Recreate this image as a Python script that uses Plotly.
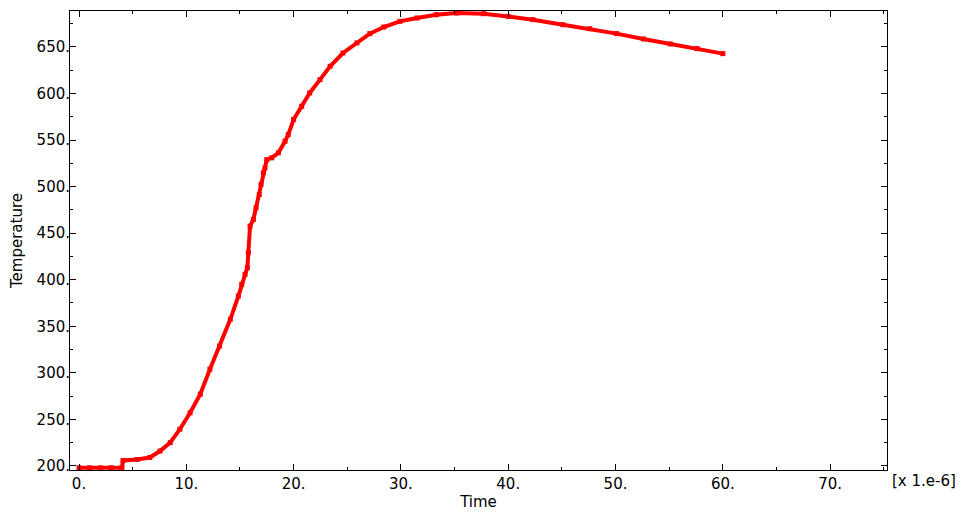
import plotly.graph_objects as go

# Temperature history (time in units of 1e-6)
time_vals = [0.0, 1.0, 2.0, 3.0, 4.0, 4.1, 5.4, 6.6, 7.55, 8.5, 9.4, 10.35, 11.3,
             12.2, 13.1, 14.1, 14.85, 15.16, 15.47, 15.69, 15.78, 15.94, 16.25,
             16.5, 16.8, 16.96, 17.18, 17.33, 17.5, 17.96, 18.58, 19.2, 19.5,
             20.0, 20.75, 21.5, 22.46, 23.4, 24.6, 25.9, 27.1, 28.4, 29.9, 31.5,
             33.3, 35.2, 37.7, 40.0, 42.3, 45.1, 47.6, 50.1, 52.6, 55.1, 57.6, 60.0]
temperature = [198.0, 198.0, 198.0, 198.0, 198.0, 205.8, 206.9, 209.0, 216.0, 225.0,
               239.4, 257.0, 277.0, 303.8, 328.8, 357.4, 382.4, 395.0, 405.7, 412.9,
               429.0, 457.5, 464.7, 477.3, 491.5, 502.3, 514.8, 520.0, 529.0, 530.9,
               536.3, 548.7, 555.9, 572.0, 586.3, 600.6, 614.9, 629.2, 643.5, 654.3,
               664.3, 671.4, 677.5, 681.1, 684.6, 686.4, 685.7, 682.8, 679.3, 673.9,
               669.6, 664.3, 658.6, 653.2, 648.2, 642.8]

x_ticks = [0, 10, 20, 30, 40, 50, 60, 70]
x_labels = ['0.', '10.', '20.', '30.', '40.', '50.', '60.', '70.']
y_ticks = [200, 250, 300, 350, 400, 450, 500, 550, 600, 650]
y_labels = ['200.', '250.', '300.', '350.', '400.', '450.', '500.', '550.', '600.', '650.']

fig = go.Figure()

fig.add_trace(go.Scatter(
    x=time_vals,
    y=temperature,
    mode='lines+markers',
    line=dict(color='#FF0000', width=4),
    marker=dict(symbol='square', size=5, color='#FF0000'),
    showlegend=False
))

font = dict(family='DejaVu Sans', size=15, color='#000000')

# the page body has an 8px margin, so the figure is a bit smaller than the window
fig.update_layout(
    width=958, height=514,
    margin=dict(l=62, r=79, t=3, b=52),
    plot_bgcolor='white', paper_bgcolor='white',
    font=font,
    annotations=[dict(
        text='[x 1.e-6]', xref='paper', yref='paper', x=1.004, y=-0.023,
        xanchor='left', yanchor='middle', showarrow=False, font=font
    )]
)

fig.update_xaxes(
    range=[-0.84, 75.3], showgrid=False, zeroline=False, automargin=False,
    showline=True, linecolor='black', linewidth=1, mirror='ticks',
    ticks='inside', ticklen=6, tickcolor='black', tickfont=font,
    tickmode='array', tickvals=x_ticks, ticktext=x_labels,
    minor=dict(ticks='inside', ticklen=3, tickcolor='black', dtick=5, tick0=0, showgrid=False),
    title=dict(text='Time', standoff=2, font=font)
)
fig.update_yaxes(
    range=[195.6, 688.6], showgrid=False, zeroline=False, automargin=False,
    showline=True, linecolor='black', linewidth=1, mirror='ticks',
    ticks='inside', ticklen=6, tickcolor='black', tickfont=font,
    ticklabelstandoff=-4,
    tickmode='array', tickvals=y_ticks, ticktext=y_labels,
    minor=dict(ticks='inside', ticklen=3, tickcolor='black', dtick=25, tick0=0, showgrid=False),
    title=dict(text='Temperature', standoff=12, font=font)
)

fig.write_html('out.html')
